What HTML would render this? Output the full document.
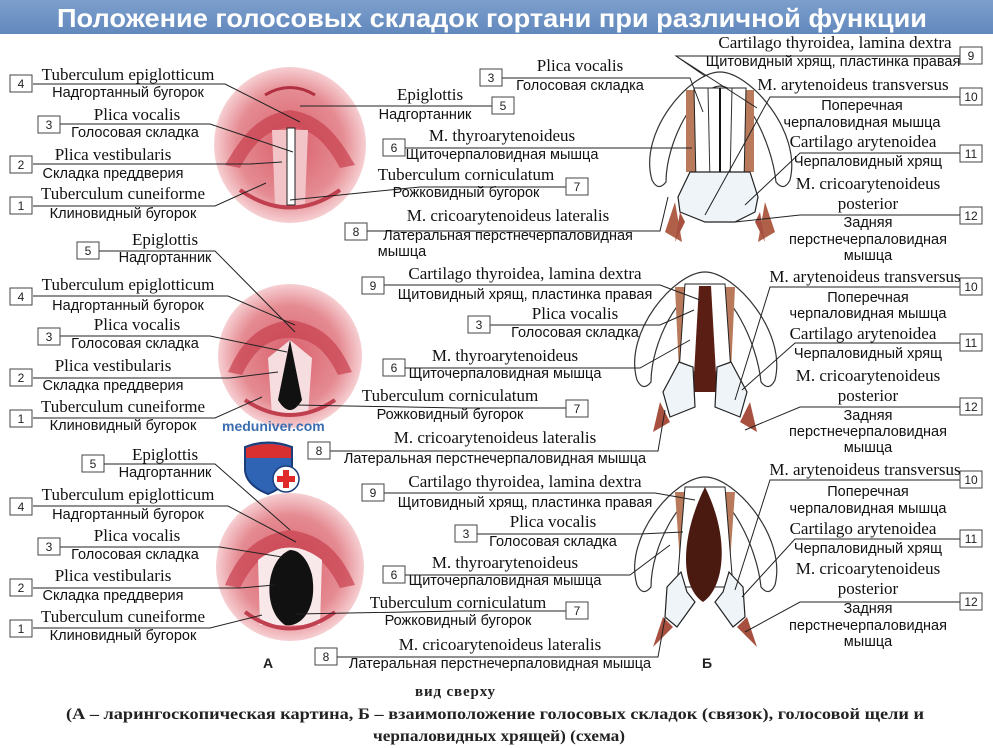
<!DOCTYPE html>
<html><head><meta charset="utf-8"><style>
html,body{margin:0;padding:0;background:#fff;}
svg{display:block;}
.s{font-family:"Liberation Serif",serif;font-size:17px;fill:#111;text-anchor:middle;}
.r{font-family:"Liberation Sans",sans-serif;font-size:14.5px;fill:#111;text-anchor:middle;}
.n{font-family:"Liberation Sans",sans-serif;font-size:12px;fill:#222;text-anchor:middle;}
.b{fill:#fff;stroke:#444;stroke-width:1;}
.l{fill:none;stroke:#222;stroke-width:1;}
</style></head><body>
<svg width="993" height="748" viewBox="0 0 993 748" xmlns="http://www.w3.org/2000/svg">
<defs>
<linearGradient id="tb" x1="0" y1="0" x2="0" y2="1"><stop offset="0" stop-color="#7c9fcc"/><stop offset="1" stop-color="#6288bd"/></linearGradient>
<radialGradient id="pk" cx="0.5" cy="0.5" r="0.5"><stop offset="0" stop-color="#d9606c"/><stop offset="0.7" stop-color="#e58b92"/><stop offset="1" stop-color="#f6cfd2"/></radialGradient>
<g id="thy">
<path d="M-68,108 C-82,60 -30,0 0,0 C30,0 82,60 70,108 Q64,120 56,110 C52,70 25,16 0,14 C-25,16 -54,70 -54,110 Q-62,120 -68,108 Z" fill="#fff" stroke="#333" stroke-width="1.2"/>
</g>
</defs>
<rect x="0" y="0" width="993" height="34" fill="url(#tb)"/>
<text x="492" y="27" font-family="Liberation Sans,sans-serif" font-size="26" font-weight="bold" fill="#fff" text-anchor="middle" textLength="870" lengthAdjust="spacingAndGlyphs">Положение голосовых складок гортани при различной функции</text>

<g>
<ellipse cx="290" cy="145" rx="76" ry="78" fill="url(#pk)"/>
<path d="M225,165 C240,140 255,115 290,110 C325,115 340,140 355,165 L340,168 C325,140 310,128 290,128 C270,128 255,140 240,168Z" fill="#c8404e" opacity="0.7"/>
<path d="M265,95 Q290,80 315,95" stroke="#b03040" stroke-width="3" fill="none"/>
<path d="M272,130 L308,130 L305,205 L275,205Z" fill="#f2c4c8"/>
<rect x="287" y="128" width="8" height="77" fill="#fff" stroke="#222" stroke-width="1"/>
<path d="M240,190 Q290,225 340,190" stroke="#c04050" stroke-width="4" fill="none"/>
</g>
<g>
<ellipse cx="290" cy="356" rx="72" ry="72" fill="url(#pk)"/>
<path d="M228,372 C240,345 255,325 290,320 C325,325 340,345 352,372 L338,375 C325,348 310,338 290,338 C270,338 255,348 242,375Z" fill="#c8404e" opacity="0.7"/>
<path d="M268,358 L290,340 L312,358 L308,415 L272,415Z" fill="#f6dde0"/>
<path d="M290,340 L278,400 Q290,420 302,400Z" fill="#111"/>
<path d="M245,400 Q290,430 335,400" stroke="#c04050" stroke-width="4" fill="none"/>
</g>
<g>
<ellipse cx="290" cy="567" rx="74" ry="74" fill="url(#pk)"/>
<path d="M225,585 C238,555 255,535 290,530 C325,535 342,555 355,585 L340,588 C326,560 310,548 290,548 C270,548 254,560 240,588Z" fill="#c8404e" opacity="0.7"/>
<path d="M258,560 Q290,535 322,560 L320,625 L260,625Z" fill="#f8e8ea"/>
<path d="M290,550 C265,560 262,610 285,625 C300,628 318,610 312,575 C308,560 300,550 290,550Z" fill="#111"/>
<path d="M245,612 Q290,645 335,612" stroke="#c04050" stroke-width="4" fill="none"/>
</g>
<text x="222" y="431" font-family="Liberation Sans,sans-serif" font-size="14" font-weight="bold" fill="#3a6cb0">meduniver.com</text>
<g>
<path d="M245,447 Q268,438 292,447 L292,470 Q290,485 268,494 Q246,485 245,470Z" fill="#2f64b4" stroke="#1a3d7a" stroke-width="2"/>
<path d="M246,448 Q268,440 291,448 L291,458 L246,458Z" fill="#d83030"/>
<circle cx="286" cy="479" r="13" fill="#fff" stroke="#1a3d7a" stroke-width="1.5"/>
<path d="M283,470 h6 v6 h6 v6 h-6 v6 h-6 v-6 h-6 v-6 h6z" fill="#e02a2a"/>
</g>

<g transform="translate(720,72)">
<use href="#thy"/>
<path d="M-34,18 L-26,18 L-24,100 L-34,100Z" fill="#b87a5a"/>
<path d="M26,18 L34,18 L34,100 L24,100Z" fill="#b87a5a"/>
<path d="M-26,16 L26,16 L24,110 L-24,110Z" fill="#fff" stroke="#222"/>
<line x1="0" y1="16" x2="0" y2="110" stroke="#111" stroke-width="2"/>
<line x1="-12" y1="16" x2="-10" y2="110" stroke="#333"/>
<line x1="12" y1="16" x2="10" y2="110" stroke="#333"/>
<path d="M-45,130 L-55,160 L-38,170 Z M45,130 L55,160 L38,170Z" fill="#b06048"/>
<path d="M-30,100 L30,100 L38,125 L35,140 L15,150 L-15,150 L-40,140 L-42,125Z" fill="#eef4f8" stroke="#222" stroke-width="1.2"/>
<path d="M-40,140 L-45,170 L-35,150Z M40,140 L45,170 L35,150Z" fill="#a85040"/>
</g>
<g transform="translate(705,272)">
<use href="#thy"/>
<path d="M-30,15 L-20,15 L-15,100 L-26,100Z" fill="#b87a5a"/>
<path d="M20,15 L30,15 L26,100 L15,100Z" fill="#b87a5a"/>
<path d="M-20,12 L20,12 L26,100 L-26,100Z" fill="#fff" stroke="#222"/>
<path d="M-6,14 L6,14 L12,120 L-12,120Z" fill="#5a1e14"/>
<path d="M-26,90 L-12,95 L-10,135 L-35,145 L-42,120Z M26,90 L12,95 L10,135 L35,145 L42,120Z" fill="#eef4f8" stroke="#222" stroke-width="1.2"/>
<path d="M-45,130 L-52,160 L-35,150Z M45,130 L52,160 L35,150Z" fill="#a85040"/>
</g>
<g transform="translate(705,477)">
<use href="#thy"/>
<path d="M-30,15 L-20,15 L-12,100 L-24,100Z" fill="#b87a5a"/>
<path d="M20,15 L30,15 L24,100 L12,100Z" fill="#b87a5a"/>
<path d="M-20,10 L20,10 L28,110 L-28,110Z" fill="#fff" stroke="#222"/>
<path d="M0,10 C-25,60 -25,110 -2,125 C20,110 25,60 0,10Z" fill="#4a1a10"/>
<path d="M-24,95 L-18,115 L-10,125 L-28,150 L-40,140 L-38,110Z M24,95 L18,115 L10,125 L28,150 L40,140 L38,110Z" fill="#eef4f8" stroke="#222" stroke-width="1.2"/>
<path d="M-42,140 L-52,170 L-32,150Z M42,140 L52,170 L32,150Z" fill="#a85040"/>
</g>

<g class="l">
<path d="M33,84 H225 L300,122"/><path d="M60,124 H210 L293,152"/><path d="M33,164 H250 L282,162"/><path d="M33,206 H215 L266,183"/>
<path d="M492,106 H300"/><path d="M405,148 H692"/><path d="M566,187 H420 L290,200"/><path d="M367,231 H660 L668,197"/>
<path d="M480,78 H690 L703,112"/><path d="M960,56 H676 L705,76 M676,56 L757,108"/>
<path d="M960,97 H770 L705,215"/><path d="M960,153 H800 L745,205"/><path d="M960,215 H800 L735,222"/>

<path d="M99,251 H215 L295,332"/><path d="M33,296 H228 L295,325"/><path d="M60,336 H210 L287,352"/><path d="M33,378 H230 L278,372"/><path d="M33,418 H215 L262,397"/>
<path d="M384,285 H660 L700,300"/><path d="M490,325 H660 L694,310"/><path d="M405,368 H640 L690,340"/><path d="M566,408 H460 L296,405"/><path d="M330,451 H658 L665,410"/>
<path d="M960,287 H770 L735,400"/><path d="M960,343 H795 L742,390"/><path d="M960,407 H800 L745,430"/>

<path d="M104,464 H215 L290,530"/><path d="M33,506 H228 L296,542"/><path d="M60,547 H220 L282,557"/><path d="M33,588 H240 L275,585"/><path d="M33,628 H210 L262,615"/>
<path d="M384,493 H655 L695,500"/><path d="M477,534 H640 L683,532"/><path d="M405,575 H630 L670,545"/><path d="M566,611 H460 L296,614"/><path d="M337,657 H658 L665,618"/>
<path d="M960,480 H770 L735,590"/><path d="M960,539 H795 L742,597"/><path d="M960,602 H800 L745,632"/>
</g>

<g>
<rect class="b" x="10" y="75" width="22" height="17"/><text class="n" x="21" y="88">4</text>
<rect class="b" x="38" y="116" width="22" height="17"/><text class="n" x="49" y="129">3</text>
<rect class="b" x="10" y="156" width="22" height="17"/><text class="n" x="21" y="169">2</text>
<rect class="b" x="10" y="197" width="22" height="17"/><text class="n" x="21" y="210">1</text>
<rect class="b" x="492" y="97" width="22" height="17"/><text class="n" x="503" y="110">5</text>
<rect class="b" x="383" y="139" width="22" height="17"/><text class="n" x="394" y="152">6</text>
<rect class="b" x="566" y="178" width="22" height="17"/><text class="n" x="577" y="191">7</text>
<rect class="b" x="345" y="223" width="22" height="17"/><text class="n" x="356" y="236">8</text>
<rect class="b" x="480" y="69" width="22" height="17"/><text class="n" x="491" y="82">3</text>
<rect class="b" x="960" y="47" width="22" height="17"/><text class="n" x="971" y="60">9</text>
<rect class="b" x="960" y="88" width="22" height="17"/><text class="n" x="971" y="101">10</text>
<rect class="b" x="960" y="145" width="22" height="17"/><text class="n" x="971" y="158">11</text>
<rect class="b" x="960" y="207" width="22" height="17"/><text class="n" x="971" y="220">12</text>

<rect class="b" x="77" y="242" width="22" height="17"/><text class="n" x="88" y="255">5</text>
<rect class="b" x="10" y="288" width="22" height="17"/><text class="n" x="21" y="301">4</text>
<rect class="b" x="38" y="328" width="22" height="17"/><text class="n" x="49" y="341">3</text>
<rect class="b" x="10" y="369" width="22" height="17"/><text class="n" x="21" y="382">2</text>
<rect class="b" x="10" y="410" width="22" height="17"/><text class="n" x="21" y="423">1</text>
<rect class="b" x="362" y="277" width="22" height="17"/><text class="n" x="373" y="290">9</text>
<rect class="b" x="468" y="316" width="22" height="17"/><text class="n" x="479" y="329">3</text>
<rect class="b" x="383" y="359" width="22" height="17"/><text class="n" x="394" y="372">6</text>
<rect class="b" x="566" y="400" width="22" height="17"/><text class="n" x="577" y="413">7</text>
<rect class="b" x="308" y="442" width="22" height="17"/><text class="n" x="319" y="455">8</text>
<rect class="b" x="960" y="278" width="22" height="17"/><text class="n" x="971" y="291">10</text>
<rect class="b" x="960" y="334" width="22" height="17"/><text class="n" x="971" y="347">11</text>
<rect class="b" x="960" y="398" width="22" height="17"/><text class="n" x="971" y="411">12</text>

<rect class="b" x="82" y="455" width="22" height="17"/><text class="n" x="93" y="468">5</text>
<rect class="b" x="10" y="498" width="22" height="17"/><text class="n" x="21" y="511">4</text>
<rect class="b" x="38" y="538" width="22" height="17"/><text class="n" x="49" y="551">3</text>
<rect class="b" x="10" y="579" width="22" height="17"/><text class="n" x="21" y="592">2</text>
<rect class="b" x="10" y="620" width="22" height="17"/><text class="n" x="21" y="633">1</text>
<rect class="b" x="362" y="484" width="22" height="17"/><text class="n" x="373" y="497">9</text>
<rect class="b" x="455" y="525" width="22" height="17"/><text class="n" x="466" y="538">3</text>
<rect class="b" x="383" y="566" width="22" height="17"/><text class="n" x="394" y="579">6</text>
<rect class="b" x="566" y="602" width="22" height="17"/><text class="n" x="577" y="615">7</text>
<rect class="b" x="315" y="648" width="22" height="17"/><text class="n" x="326" y="661">8</text>
<rect class="b" x="960" y="471" width="22" height="17"/><text class="n" x="971" y="484">10</text>
<rect class="b" x="960" y="530" width="22" height="17"/><text class="n" x="971" y="543">11</text>
<rect class="b" x="960" y="593" width="22" height="17"/><text class="n" x="971" y="606">12</text>
</g>

<text class="s" x="128" y="80">Tuberculum epiglotticum</text><text class="r" x="128" y="97">Надгортанный бугорок</text>
<text class="s" x="137" y="120">Plica vocalis</text><text class="r" x="135" y="137">Голосовая складка</text>
<text class="s" x="113" y="160">Plica vestibularis</text><text class="r" x="113" y="178">Складка преддверия</text>
<text class="s" x="123" y="199">Tuberculum cuneiforme</text><text class="r" x="123" y="218">Клиновидный бугорок</text>
<text class="s" x="430" y="100">Epiglottis</text><text class="r" x="425" y="119">Надгортанник</text>
<text class="s" x="502" y="141">M. thyroarytenoideus</text><text class="r" x="502" y="159">Щиточерпаловидная мышца</text>
<text class="s" x="466" y="180">Tuberculum corniculatum</text><text class="r" x="466" y="197">Рожковидный бугорок</text>
<text class="s" x="508" y="221">M. cricoarytenoideus lateralis</text><text class="r" x="508" y="240">Латеральная перстнечерпаловидная</text><text class="r" x="402" y="256">мышца</text>
<text class="s" x="580" y="71">Plica vocalis</text><text class="r" x="580" y="90">Голосовая складка</text>
<text class="s" x="835" y="48">Cartilago thyroidea, lamina dextra</text><text class="r" x="833" y="66">Щитовидный хрящ, пластинка правая</text>
<text class="s" x="853" y="90">M. arytenoideus transversus</text><text class="r" x="862" y="110">Поперечная</text><text class="r" x="862" y="127">черпаловидная мышца</text>
<text class="s" x="863" y="147">Cartilago arytenoidea</text><text class="r" x="868" y="166">Черпаловидный хрящ</text>
<text class="s" x="868" y="189">M. cricoarytenoideus</text><text class="s" x="868" y="209">posterior</text><text class="r" x="868" y="227">Задняя</text><text class="r" x="868" y="244">перстнечерпаловидная</text><text class="r" x="868" y="260">мышца</text>

<text class="s" x="165" y="245">Epiglottis</text><text class="r" x="165" y="262">Надгортанник</text>
<text class="s" x="128" y="290">Tuberculum epiglotticum</text><text class="r" x="128" y="310">Надгортанный бугорок</text>
<text class="s" x="137" y="330">Plica vocalis</text><text class="r" x="135" y="348">Голосовая складка</text>
<text class="s" x="113" y="371">Plica vestibularis</text><text class="r" x="113" y="390">Складка преддверия</text>
<text class="s" x="123" y="412">Tuberculum cuneiforme</text><text class="r" x="123" y="430">Клиновидный бугорок</text>
<text class="s" x="525" y="279">Cartilago thyroidea, lamina dextra</text><text class="r" x="525" y="299">Щитовидный хрящ, пластинка правая</text>
<text class="s" x="575" y="319">Plica vocalis</text><text class="r" x="575" y="337">Голосовая складка</text>
<text class="s" x="505" y="361">M. thyroarytenoideus</text><text class="r" x="505" y="378">Щиточерпаловидная мышца</text>
<text class="s" x="450" y="401">Tuberculum corniculatum</text><text class="r" x="450" y="419">Рожковидный бугорок</text>
<text class="s" x="495" y="443">M. cricoarytenoideus lateralis</text><text class="r" x="495" y="463">Латеральная перстнечерпаловидная мышца</text>
<text class="s" x="865" y="282">M. arytenoideus transversus</text><text class="r" x="868" y="302">Поперечная</text><text class="r" x="868" y="318">черпаловидная мышца</text>
<text class="s" x="863" y="339">Cartilago arytenoidea</text><text class="r" x="868" y="358">Черпаловидный хрящ</text>
<text class="s" x="868" y="381">M. cricoarytenoideus</text><text class="s" x="868" y="401">posterior</text><text class="r" x="868" y="420">Задняя</text><text class="r" x="868" y="436">перстнечерпаловидная</text><text class="r" x="868" y="452">мышца</text>

<text class="s" x="165" y="460">Epiglottis</text><text class="r" x="165" y="477">Надгортанник</text>
<text class="s" x="128" y="500">Tuberculum epiglotticum</text><text class="r" x="128" y="519">Надгортанный бугорок</text>
<text class="s" x="137" y="541">Plica vocalis</text><text class="r" x="135" y="559">Голосовая складка</text>
<text class="s" x="113" y="581">Plica vestibularis</text><text class="r" x="113" y="600">Складка преддверия</text>
<text class="s" x="123" y="622">Tuberculum cuneiforme</text><text class="r" x="123" y="640">Клиновидный бугорок</text>
<text class="s" x="525" y="487">Cartilago thyroidea, lamina dextra</text><text class="r" x="525" y="507">Щитовидный хрящ, пластинка правая</text>
<text class="s" x="553" y="527">Plica vocalis</text><text class="r" x="553" y="546">Голосовая складка</text>
<text class="s" x="505" y="568">M. thyroarytenoideus</text><text class="r" x="505" y="585">Щиточерпаловидная мышца</text>
<text class="s" x="458" y="608">Tuberculum corniculatum</text><text class="r" x="458" y="625">Рожковидный бугорок</text>
<text class="s" x="500" y="650">M. cricoarytenoideus lateralis</text><text class="r" x="500" y="668">Латеральная перстнечерпаловидная мышца</text>
<text class="s" x="865" y="475">M. arytenoideus transversus</text><text class="r" x="868" y="496">Поперечная</text><text class="r" x="868" y="513">черпаловидная мышца</text>
<text class="s" x="863" y="534">Cartilago arytenoidea</text><text class="r" x="868" y="553">Черпаловидный хрящ</text>
<text class="s" x="868" y="574">M. cricoarytenoideus</text><text class="s" x="868" y="594">posterior</text><text class="r" x="868" y="613">Задняя</text><text class="r" x="868" y="630">перстнечерпаловидная</text><text class="r" x="868" y="646">мышца</text>

<text x="268" y="668" font-family="Liberation Sans,sans-serif" font-size="14" font-weight="bold" text-anchor="middle" fill="#222">А</text>
<text x="707" y="668" font-family="Liberation Sans,sans-serif" font-size="14" font-weight="bold" text-anchor="middle" fill="#222">Б</text>

<text x="455" y="696" font-family="Liberation Serif,serif" font-size="15" font-weight="bold" text-anchor="middle" fill="#222" textLength="80">вид сверху</text>
<text x="66" y="719" font-family="Liberation Serif,serif" font-size="16" font-weight="bold" fill="#222" textLength="858" lengthAdjust="spacingAndGlyphs">(А – ларингоскопическая картина, Б – взаимоположение голосовых складок (связок), голосовой щели и</text>
<text x="373" y="741" font-family="Liberation Serif,serif" font-size="16" font-weight="bold" fill="#222" textLength="252" lengthAdjust="spacingAndGlyphs">черпаловидных хрящей) (схема)</text>
</svg>
</body></html>
